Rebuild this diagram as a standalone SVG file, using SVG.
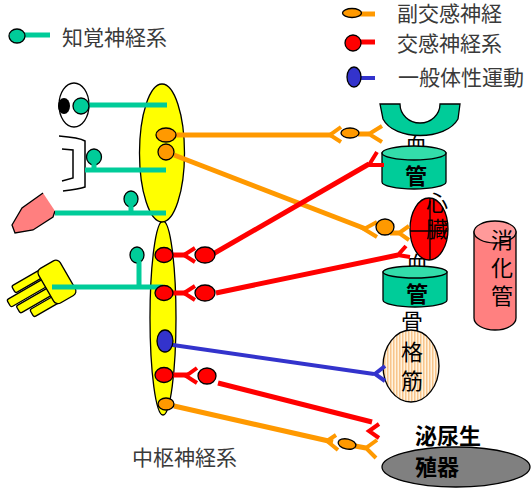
<svg xmlns="http://www.w3.org/2000/svg" width="531" height="488" viewBox="0 0 531 488">
<defs>
<style>
.lbl{font-family:"Noto Sans CJK JP","Noto Sans CJK SC",sans-serif;font-size:21px;fill:#3a3a3a}
.org{font-family:"Noto Sans CJK JP","Noto Sans CJK SC",sans-serif;font-size:22px;fill:#000;text-anchor:middle}
.bold{font-weight:bold}
.teal{stroke:#00CC99;stroke-width:5;fill:none}
.orange{stroke:#FF9900;stroke-width:5;fill:none}
.red{stroke:#FF0000;stroke-width:5;fill:none}
.blue{stroke:#3333CC;stroke-width:4;fill:none}
.thin{stroke-width:4}
.ol{stroke:#000;stroke-width:1.3}
.tn{fill:#00CC99}
.on{fill:#FF9900}
.rn{fill:#FF0000}
.bn{fill:#3333CC}
</style>
<pattern id="stripes" width="3" height="10" patternUnits="userSpaceOnUse">
<rect width="3" height="10" fill="#FFF3DF"/>
<rect width="1.5" height="10" fill="#F8C58C"/>
</pattern>
</defs>
<rect width="531" height="488" fill="#fff"/>

<!-- legend -->
<g id="legend">
<path class="teal" d="M17,35 L50,35"/>
<ellipse class="tn ol" cx="17" cy="36" rx="8" ry="7"/>
<text class="lbl" x="62" y="45">知覚神経系</text>
<path class="orange" d="M356,14 L375,14"/>
<ellipse class="on ol" cx="352" cy="13" rx="9.5" ry="4.5"/>
<text class="lbl" x="397" y="21">副交感神経</text>
<path class="red" d="M356,42 L375,42"/>
<circle class="rn ol" cx="353" cy="43" r="8"/>
<text class="lbl" x="397" y="51">交感神経系</text>
<path class="blue" d="M358,78 L375,78"/>
<ellipse class="bn ol" cx="354" cy="77" rx="7" ry="10"/>
<text class="lbl" x="398" y="85">一般体性運動</text>
</g>

<!-- sense organs -->
<g id="eye">
<ellipse cx="74" cy="105" rx="15" ry="22" fill="#fff" class="ol"/>
<ellipse cx="64" cy="106" rx="6" ry="8" fill="#000"/>
</g>
<g id="ear" fill="none" stroke="#000" stroke-width="1.5">
<path d="M59,136 C72,137 80,138 85,141 L85,187 C80,189 72,190 63,191"/>
<path d="M62,149 L73,150 L73,178 L62,181"/>
</g>
<g id="tongue">
<path d="M43,193 L55,211 L53,217 L33,230 L15,233 L12,225 L22,208 Z" fill="#FF7F7F"/>
<path d="M55,211 L53,217 L33,230 L15,233 L12,225 L22,208 L43,193" fill="none" stroke="#000" stroke-width="1.3"/>
</g>
<g id="hand" transform="rotate(-30 57 283)" fill="#FFFF00" stroke="#000" stroke-width="1.3">
<rect x="16" y="263" width="36" height="8" rx="2"/>
<rect x="5" y="272.5" width="47" height="8.5" rx="2"/>
<rect x="10" y="282.5" width="42" height="8.5" rx="2"/>
<rect x="20" y="292.5" width="32" height="8.5" rx="2"/>
<rect x="45" y="262" width="25" height="40" rx="5"/>
</g>

<!-- central nervous system -->
<g id="cns">
<ellipse cx="163" cy="318" rx="13" ry="97" fill="#FFFF00" class="ol"/>
<ellipse cx="162" cy="153" rx="22.5" ry="69" fill="#FFFF00" class="ol"/>
<text class="lbl" x="132" y="465" font-size="20">中枢神経系</text>
</g>

<!-- effector organs -->
<g id="vessel-top">
<text class="org" x="416" y="153" font-size="20">血</text>
<path d="M380,104 L400,104 A20,19 0 0 0 440,104 L460,104 L458,119 C446,141 394,141 383,119 Z" fill="#00CC99" class="ol"/>
<path d="M382,153 L382,182 A32,7 0 0 0 446,182 L446,153 Z" fill="#00CC99" class="ol"/>
<ellipse cx="414" cy="153" rx="32" ry="7" fill="#33DDAA" class="ol"/>
<text class="org bold" x="416" y="184">管</text>
</g>
<g id="vessel-bottom">
<text class="org" x="417" y="272" font-size="20">血</text>
<path d="M383,272 L383,300 A32,7 0 0 0 447,300 L447,272 Z" fill="#00CC99" class="ol"/>
<ellipse cx="415" cy="272" rx="32" ry="6" fill="#33DDAA" class="ol"/>
<text class="org bold" x="417" y="302">管</text>
</g>
<g id="heart">
<ellipse cx="429" cy="229" rx="19" ry="31" fill="#FF0000" class="ol"/>
<path d="M430,198 L430,260 M410,231 L448,231" stroke="#000" stroke-width="1.3"/>
<text class="org" x="437" y="211" font-size="19">心</text>
<text class="org" x="437" y="237" font-size="19">臓</text>
</g>
<g id="muscle">
<text class="org" x="412" y="329">骨</text>
<ellipse cx="411" cy="366" rx="28" ry="36" fill="url(#stripes)" class="ol"/>
<text class="org" x="412" y="360">格</text>
<text class="org" x="412" y="389">筋</text>
</g>
<g id="digestive">
<path d="M474,232 L474,318 A21,12 0 0 0 516,318 L516,232 Z" fill="#FF8080" class="ol"/>
<ellipse cx="495" cy="232" rx="21" ry="11" fill="#FF9A9A" class="ol"/>
<text class="org" x="502" y="248" font-size="21">消</text>
<text class="org" x="502" y="276" font-size="21">化</text>
<text class="org" x="502" y="304" font-size="21">管</text>
</g>
<g id="urogenital">
<ellipse cx="456" cy="467" rx="74" ry="20" fill="#808080" class="ol"/>
<text class="org bold" x="415" y="444" style="text-anchor:start">泌尿生</text>
<text class="org bold" x="415" y="475" style="text-anchor:start">殖器</text>
</g>

<!-- connectors -->
<g id="connectors">
<!-- sensory -->
<path class="teal" d="M81,105 L167,105"/>
<path class="teal" d="M85,170 L166,170"/>
<path class="teal" d="M55,213 L166,213"/>
<path class="teal" d="M52,287 L163,287"/>
<!-- parasympathetic -->
<path class="orange" d="M176,135 L333,135"/>
<path class="orange thin" d="M341,127 L330,135 L341,142"/>
<path class="orange" d="M358,134 L369,134"/>
<path class="orange thin" d="M382,126 L369,134 L382,142"/>
<path class="orange" d="M174,155 L366,229"/>
<path class="orange thin" d="M377,222 L364,229 L377,237"/>
<path class="orange" d="M390,233 L399,233"/>
<path class="orange thin" d="M409,226 L399,233 L409,240"/>
<path class="orange" d="M174,406 L333,442"/>
<path class="orange thin" d="M336,435 L327,441 L338,450"/>
<path class="orange" d="M355,446 L366,448"/>
<path class="orange thin" d="M377,440 L366,448 L376,458"/>
<!-- sympathetic -->
<path class="red" d="M164,255 L188,255"/>
<path class="red thin" d="M195,248 L184,255 L195,262"/>
<path class="red" d="M213,254 L369,164"/>
<path class="red thin" d="M377,152 L369,165 L384,165"/>
<path class="red" d="M164,293 L188,293"/>
<path class="red thin" d="M195,286 L184,293 L195,300"/>
<path class="red" d="M216,293 L398,255"/>
<path class="red thin" d="M406,246 L398,255 L410,257"/>
<path class="red" d="M164,375 L189,375"/>
<path class="red thin" d="M197,368 L186,376 L197,383"/>
<path class="red" d="M218,383 L372,422"/>
<path class="red thin" d="M379,424 L369,431 L379,438"/>
<!-- somatic motor -->
<path class="blue" d="M166,344 L374,374"/>
<path class="blue" d="M385,366 L375,374 L385,381"/>
</g>

<!-- neuron bodies -->
<g id="nodes">
<circle class="tn ol" cx="81" cy="106" r="8"/>
<ellipse class="tn ol" cx="94" cy="157" rx="7.5" ry="8"/>
<path class="teal" d="M94,163 L94,170"/>
<ellipse class="tn ol" cx="131" cy="199" rx="7" ry="8"/>
<path class="teal" d="M131,205 L131,213"/>
<ellipse class="tn ol" cx="137" cy="255" rx="7" ry="8"/>
<path class="teal" d="M139,261 L139,287"/>
<ellipse class="on ol" cx="166" cy="135" rx="10" ry="7"/>
<circle class="on ol" cx="166" cy="152" r="8"/>
<ellipse class="on ol" cx="350" cy="133" rx="9" ry="5"/>
<ellipse class="on ol" cx="385" cy="227" rx="9" ry="8"/>
<ellipse class="on ol" cx="166" cy="404" rx="8" ry="6"/>
<ellipse class="on ol" cx="347" cy="444" rx="9" ry="5" transform="rotate(12 347 444)"/>
<ellipse class="rn ol" cx="164" cy="255" rx="9" ry="7.5"/>
<ellipse class="rn ol" cx="205" cy="255" rx="10" ry="8"/>
<ellipse class="rn ol" cx="164" cy="293" rx="9" ry="7.5"/>
<ellipse class="rn ol" cx="205" cy="293" rx="10" ry="8"/>
<ellipse class="rn ol" cx="164" cy="375" rx="9" ry="7.5"/>
<ellipse class="rn ol" cx="207" cy="376" rx="9" ry="8"/>
<ellipse class="bn ol" cx="165" cy="341" rx="8" ry="11"/>
</g>
</svg>
